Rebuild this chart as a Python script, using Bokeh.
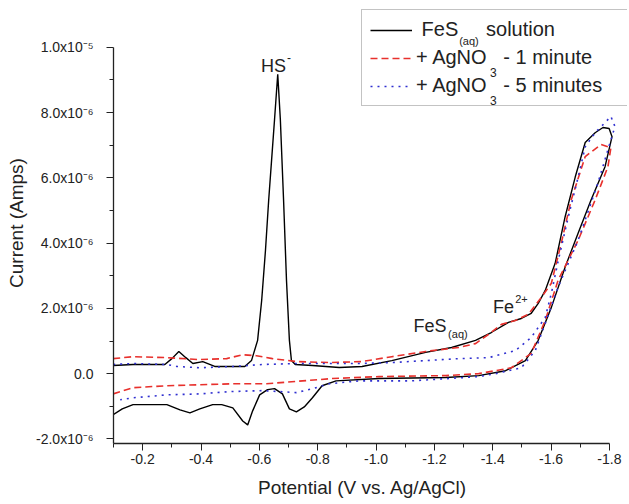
from bokeh.plotting import figure
from bokeh.models import Range1d, FixedTicker, Legend, LegendItem, Label, CustomJSTickFormatter
from bokeh.embed import file_html
from bokeh.resources import INLINE

# ---- data (potential in V vs Ag/AgCl, current in units of 1e-6 A) ----
fes_potential = [-0.099, -0.167, -0.276, -0.300, -0.324, -0.348, -0.372, -0.406, -0.447, -0.550,
                 -0.573, -0.594, -0.608, -0.621, -0.632, -0.642, -0.652, -0.663, -0.672, -0.683,
                 -0.693, -0.703, -0.710, -0.723, -0.782, -0.874, -0.952, -1.054, -1.170, -1.259,
                 -1.341, -1.395, -1.454, -1.498, -1.532, -1.556, -1.580, -1.614, -1.648, -1.683,
                 -1.717, -1.751, -1.778, -1.799, -1.809,
                 -1.785, -1.737, -1.693, -1.648, -1.601, -1.556, -1.512, -1.444, -1.352, -1.239,
                 -1.010, -0.863, -0.815, -0.782, -0.754, -0.727, -0.703, -0.679, -0.652, -0.628,
                 -0.601, -0.577, -0.560, -0.543, -0.509, -0.471, -0.440, -0.396, -0.362, -0.328,
                 -0.283, -0.167, -0.130, -0.099]
fes_current = [0.25, 0.28, 0.28, 0.46, 0.68, 0.49, 0.31, 0.37, 0.22, 0.22,
               0.40, 1.02, 2.25, 3.78, 5.32, 6.55, 7.78, 9.17, 7.78, 5.32,
               2.86, 1.02, 0.40, 0.28, 0.25, 0.19, 0.22, 0.40, 0.65, 0.80,
               1.02, 1.26, 1.57, 1.69, 1.85, 2.15, 2.55, 3.38, 4.80, 6.03,
               7.08, 7.38, 7.54, 7.51, 7.26,
               6.34, 5.32, 4.31, 3.26, 2.03, 1.02, 0.40, 0.09, -0.06, -0.12,
               -0.15, -0.22, -0.37, -0.74, -1.02, -1.17, -1.08, -0.62, -0.46, -0.49,
               -0.65, -1.14, -1.57, -1.45, -1.05, -0.95, -0.95, -1.08, -1.20, -1.11,
               -0.95, -0.95, -1.08, -1.26]

ag1_potential = [-0.099, -0.167, -0.283, -0.396, -0.488, -0.543, -0.590, -0.645, -0.727, -0.840,
                 -0.952, -1.054, -1.170, -1.283, -1.341, -1.385, -1.430, -1.478, -1.522, -1.567,
                 -1.601, -1.635, -1.669, -1.717, -1.771, -1.805,
                 -1.795, -1.751, -1.693, -1.624, -1.580, -1.532, -1.464, -1.352, -1.239, -1.010,
                 -0.850, -0.624, -0.509, -0.396, -0.283, -0.167, -0.099]
ag1_current = [0.46, 0.52, 0.49, 0.43, 0.46, 0.58, 0.55, 0.46, 0.37, 0.34,
               0.37, 0.52, 0.68, 0.80, 0.92, 1.20, 1.51, 1.63, 1.82, 2.34,
               2.77, 4.00, 5.32, 6.65, 7.02, 6.92,
               6.34, 5.32, 4.09, 2.86, 1.63, 0.62, 0.18, 0.00, -0.06, -0.09,
               -0.15, -0.31, -0.31, -0.34, -0.37, -0.43, -0.62]

ag5_potential = [-0.099, -0.167, -0.283, -0.317, -0.396, -0.509, -0.611, -0.727, -0.840, -0.942,
                 -1.054, -1.170, -1.283, -1.386, -1.478, -1.532, -1.580, -1.601, -1.625, -1.659,
                 -1.693, -1.717, -1.751, -1.785, -1.805,
                 -1.819, -1.795, -1.761, -1.693, -1.624, -1.580, -1.546, -1.498, -1.410, -1.352,
                 -1.123, -0.942, -0.840, -0.782, -0.727, -0.611, -0.498, -0.396, -0.283, -0.167,
                 -0.123]
ag5_current = [0.28, 0.31, 0.28, 0.22, 0.18, 0.22, 0.28, 0.31, 0.31, 0.31,
               0.34, 0.40, 0.46, 0.49, 0.71, 1.11, 1.72, 2.46, 3.48, 4.80,
               6.03, 6.95, 7.38, 7.69, 7.88,
               7.57, 6.86, 5.85, 4.09, 2.65, 1.54, 0.71, 0.18, 0.00, -0.09,
               -0.22, -0.22, -0.31, -0.46, -0.58, -0.52, -0.55, -0.62, -0.65, -0.74,
               -0.80]

x_ticks = [-0.2, -0.4, -0.6, -0.8, -1.0, -1.2, -1.4, -1.6, -1.8]
x_tick_labels = ["-0.2", "-0.4", "-0.6", "-0.8", "-1.0", "-1.2", "-1.4", "-1.6", "-1.8"]
x_minor = [-0.1, -0.3, -0.5, -0.7, -0.9, -1.1, -1.3, -1.5, -1.7]
y_ticks = [-2, 0, 2, 4, 6, 8, 10]
y_tick_labels = ["-2.0x10\u207b\u2076", "0.0", "2.0x10\u207b\u2076", "4.0x10\u207b\u2076",
                 "6.0x10\u207b\u2076", "8.0x10\u207b\u2076", "1.0x10\u207b\u2075"]
y_minor = [-1, 1, 3, 5, 7, 9]

FONT = "Liberation Sans"
nb = "\u00a0"

# frame extends past the axes' ends (x: -1.8, y: 1e-5) so the legend box fits inside it
p = figure(width=629, height=504, x_range=Range1d(-0.1, -1.862), y_range=Range1d(-2.14, 11.37),
           output_backend="svg", toolbar_location=None,
           min_border_left=113, min_border_right=2, min_border_top=2, min_border_bottom=61)
p.outline_line_color = None
p.grid.visible = False
p.background_fill_color = "white"
p.border_fill_color = "white"

r_fes = p.line(fes_potential, fes_current, line_color="black", line_width=1.4)
r_ag1 = p.line(ag1_potential, ag1_current, line_color="#e8302c", line_width=1.6, line_dash="7 4")
r_ag5 = p.line(ag5_potential, ag5_current, line_color="#2f2fd0", line_width=1.6, line_dash="2 5")

fmt_code = """
let best = 0; let d = 1e9;
for (let i = 0; i < vals.length; i++) { const dd = Math.abs(vals[i] - tick); if (dd < d) { d = dd; best = i; } }
return labs[best];
"""
p.xaxis.ticker = FixedTicker(ticks=x_ticks, minor_ticks=x_minor)
p.xaxis.formatter = CustomJSTickFormatter(args=dict(vals=x_ticks, labs=x_tick_labels), code=fmt_code)
p.xaxis.bounds = (-1.8, -0.1)
p.yaxis.ticker = FixedTicker(ticks=y_ticks, minor_ticks=y_minor)
p.yaxis.formatter = CustomJSTickFormatter(args=dict(vals=y_ticks, labs=y_tick_labels), code=fmt_code)
p.yaxis.bounds = (-2.14, 10.0)

for ax in (p.xaxis[0], p.yaxis[0]):
    ax.axis_line_color = "#222222"
    ax.axis_line_width = 1.3
    ax.major_tick_line_color = "#222222"
    ax.minor_tick_line_color = "#222222"
    ax.major_tick_out = 7
    ax.major_tick_in = 0
    ax.minor_tick_out = 4
    ax.minor_tick_in = 0
    ax.major_label_text_font = FONT
    ax.major_label_text_font_size = "14px"
    ax.major_label_text_color = "#222222"
    ax.axis_label_text_font = FONT
    ax.axis_label_text_font_size = "19px"
    ax.axis_label_text_font_style = "normal"
    ax.axis_label_text_color = "#222222"

# trailing no-break spaces shift the centred label left, to the axis' visible centre
p.xaxis.axis_label = "Potential (V vs. Ag/AgCl)" + nb * 3
p.yaxis.axis_label = "Current (Amps)"
p.xaxis.major_label_standoff = 3
p.xaxis.axis_label_standoff = 10
p.yaxis.major_label_standoff = 13
p.yaxis.axis_label_standoff = 6

legend = Legend(items=[
    LegendItem(label=nb + "FeS" + nb * 4 + " solution", renderers=[r_fes]),
    LegendItem(label="+ AgNO" + nb * 2 + " - 1 minute", renderers=[r_ag1]),
    LegendItem(label="+ AgNO" + nb * 2 + " - 5 minutes" + nb * 3, renderers=[r_ag5]),
], location=(248, 337))
legend.glyph_width = 42
legend.glyph_height = 20
legend.label_height = 20
legend.spacing = 5
legend.padding = 8
legend.margin = 0
legend.label_standoff = 4
legend.label_width = 202
legend.label_text_font = FONT
legend.label_text_font_size = "20px"
legend.label_text_color = "#222222"
legend.border_line_color = "#888888"
legend.border_line_width = 1
legend.background_fill_alpha = 0.0
p.add_layout(legend)

def lab(x, y, text, size, level="overlay"):
    p.add_layout(Label(x=x, y=y, text=text, text_font=FONT, text_font_size=size, level=level,
                       text_color="#222222", text_baseline="alphabetic", text_align="left"))

# legend subscripts
lab(-1.285, 10.19, "(aq)", "11px")
lab(-1.391, 9.24, "3", "12px")
lab(-1.391, 8.38, "3", "12px")
# peak annotations
lab(-0.606, 9.42, "HS", "18px")
lab(-0.695, 9.68, "-", "12px")
lab(-1.128, 1.45, "FeS", "18px")
lab(-1.247, 1.20, "(aq)", "11px")
lab(-1.401, 2.03, "Fe", "18px")
lab(-1.477, 2.30, "2+", "11px")

open("out.html", "w").write(file_html(p, INLINE))
